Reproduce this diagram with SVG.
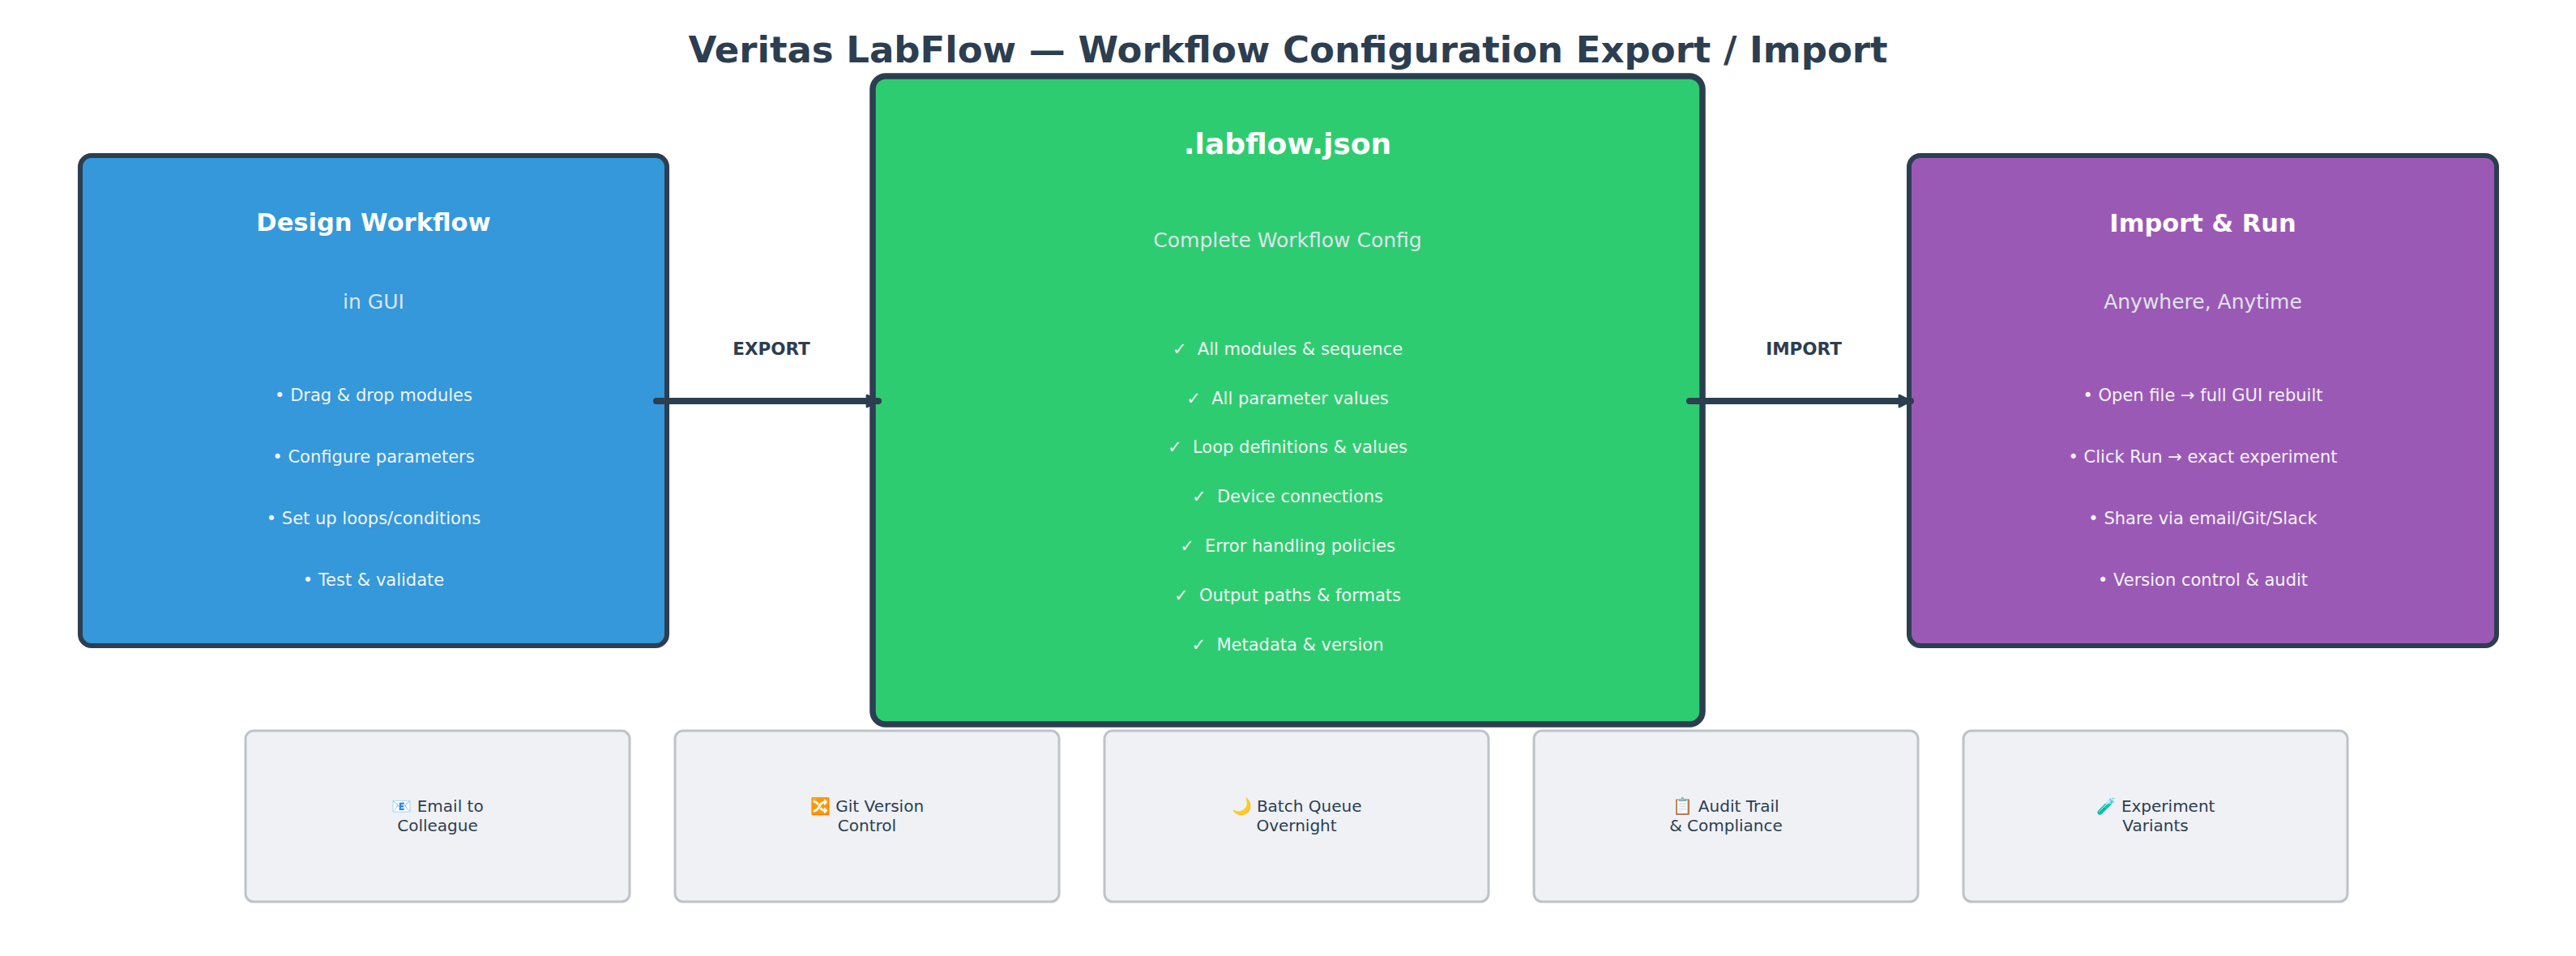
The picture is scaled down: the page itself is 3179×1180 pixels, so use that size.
<svg xmlns="http://www.w3.org/2000/svg" width="3179" height="1180" viewBox="0 0 3179 1180">
<style>
text{font-family:"DejaVu Sans","Liberation Sans",sans-serif;text-anchor:middle;white-space:pre}
.title{font-size:45px;font-weight:bold;fill:#2c3e50}
.main{stroke:#2c3e50;stroke-width:6}
.h{font-size:30.5px;font-weight:bold;fill:#ffffff}
.sub{font-size:25px;fill:#dfe4ea}
.item{font-size:21px;fill:#f2f4f5}
.lbl{font-size:21.5px;font-weight:bold;fill:#2c3e50}
.conn{stroke:#2c3e50;stroke-width:8;stroke-linecap:round;fill:none}
.use{fill:#eff1f5;stroke:#bdc3c7;stroke-width:3}
.ut{font-size:20px;fill:#2c3e50}
</style>
<defs>
<marker id="ah" viewBox="0 0 10 10" refX="9" refY="5" markerWidth="2.2" markerHeight="2.6" orient="auto" markerUnits="strokeWidth">
<path d="M1,1 L9,5 L1,9 Z" fill="#2c3e50" stroke="#2c3e50" stroke-width="1.5" stroke-linejoin="round"/>
</marker>
</defs>
<rect width="3179" height="1180" fill="#ffffff"/>
<text class="title" x="1589.5" y="77">Veritas LabFlow — Workflow Configuration Export / Import</text>

<g id="design">
<rect class="main" x="99" y="192" width="724" height="605" rx="14" fill="#3498db"/>
<text class="h" x="461" y="285">Design Workflow</text>
<text class="sub" x="461" y="381">in GUI</text>
<text class="item" x="461" y="495">• Drag &amp; drop modules</text>
<text class="item" x="461" y="571">• Configure parameters</text>
<text class="item" x="461" y="647">• Set up loops/conditions</text>
<text class="item" x="461" y="723">• Test &amp; validate</text>
</g>

<g id="labflow">
<rect x="1077" y="94" width="1024" height="800" rx="16" fill="#2ecc71" stroke="#2c3e50" stroke-width="7.5"/>
<text class="h" x="1589" y="190" style="font-size:36px">.labflow.json</text>
<text class="sub" x="1589" y="305">Complete Workflow Config</text>
<text class="item" x="1589" y="438">✓  All modules &amp; sequence</text>
<text class="item" x="1589" y="499">✓  All parameter values</text>
<text class="item" x="1589" y="559">✓  Loop definitions &amp; values</text>
<text class="item" x="1589" y="620">✓  Device connections</text>
<text class="item" x="1589" y="681">✓  Error handling policies</text>
<text class="item" x="1589" y="742">✓  Output paths &amp; formats</text>
<text class="item" x="1589" y="803">✓  Metadata &amp; version</text>
</g>

<g id="import">
<rect class="main" x="2356" y="192" width="725" height="605" rx="14" fill="#9b59b6"/>
<text class="h" x="2718.5" y="286">Import &amp; Run</text>
<text class="sub" x="2718.5" y="381">Anywhere, Anytime</text>
<text class="item" x="2718.5" y="495">• Open file → full GUI rebuilt</text>
<text class="item" x="2718.5" y="571">• Click Run → exact experiment</text>
<text class="item" x="2718.5" y="647">• Share via email/Git/Slack</text>
<text class="item" x="2718.5" y="723">• Version control &amp; audit</text>
</g>

<g id="connectors">
<line class="conn" x1="810" y1="495" x2="1084" y2="495" marker-end="url(#ah)"/>
<text class="lbl" x="952" y="438">EXPORT</text>
<line class="conn" x1="2085" y1="495" x2="2358" y2="495" marker-end="url(#ah)"/>
<text class="lbl" x="2226" y="438">IMPORT</text>
</g>

<g id="use-email">
<rect class="use" x="303" y="902" width="474" height="211" rx="10"/>
<text class="ut" x="540" y="1002">📧 Email to</text>
<text class="ut" x="540" y="1026">Colleague</text>
</g>
<g id="use-git">
<rect class="use" x="833" y="902" width="474" height="211" rx="10"/>
<text class="ut" x="1070" y="1002">🔀 Git Version</text>
<text class="ut" x="1070" y="1026">Control</text>
</g>
<g id="use-batch">
<rect class="use" x="1363" y="902" width="474" height="211" rx="10"/>
<text class="ut" x="1600" y="1002">🌙 Batch Queue</text>
<text class="ut" x="1600" y="1026">Overnight</text>
</g>
<g id="use-audit">
<rect class="use" x="1893" y="902" width="474" height="211" rx="10"/>
<text class="ut" x="2130" y="1002">📋 Audit Trail</text>
<text class="ut" x="2130" y="1026">&amp; Compliance</text>
</g>
<g id="use-variants">
<rect class="use" x="2423" y="902" width="474" height="211" rx="10"/>
<text class="ut" x="2660" y="1002">🧪 Experiment</text>
<text class="ut" x="2660" y="1026">Variants</text>
</g>
</svg>
